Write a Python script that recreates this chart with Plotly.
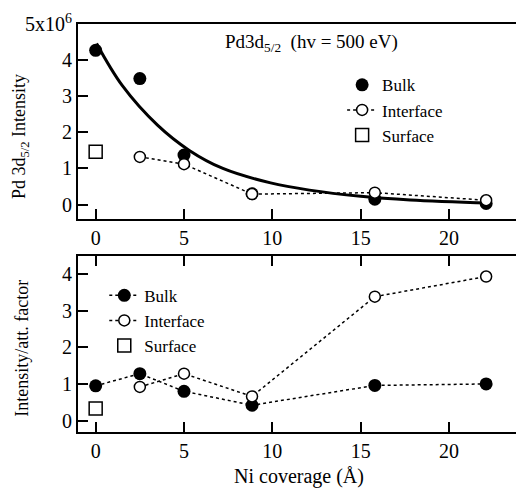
import plotly.graph_objects as go

# ---------------- data ----------------
coverage = [0, 2.5, 5.0, 8.85, 15.8, 22.1]
coverage_int = [2.5, 5.0, 8.85, 15.8, 22.1]
surf_x = [0]

top_bulk = [4.27, 3.49, 1.37, 0.30, 0.15, 0.03]
top_interface = [1.32, 1.12, 0.29, 0.33, 0.12]
top_surface = [1.46]

fit_x = [0.05, 1.5, 3.5, 5.3, 7.2, 9.9, 12.1, 15.0, 17.8, 22.3]
fit_y = [4.46, 3.30, 2.20, 1.50, 1.00, 0.60, 0.40, 0.23, 0.13, 0.045]

bot_bulk = [0.95, 1.28, 0.80, 0.42, 0.96, 1.00]
bot_interface = [0.92, 1.28, 0.66, 3.38, 3.93]
bot_surface = [0.33]

top_tickvals = [0, 1, 2, 3, 4, 5]
top_ticktext = ["0", "1", "2", "3", "4", "5x10<sup>6</sup>"]
bot_tickvals = [0, 1, 2, 3, 4]
x_tickvals = [0, 5, 10, 15, 20]

FONT = "Liberation Serif"

fig = go.Figure()

# top panel
fig.add_trace(go.Scatter(x=fit_x, y=fit_y, mode="lines", line=dict(color="black", width=3, shape="spline"),
                         showlegend=False, xaxis="x", yaxis="y"))
fig.add_trace(go.Scatter(x=coverage, y=top_bulk, mode="markers", name="Bulk",
                         marker=dict(symbol="circle", size=13, color="black"),
                         xaxis="x", yaxis="y", legend="legend"))
fig.add_trace(go.Scatter(x=coverage_int, y=top_interface, mode="lines+markers", name="Interface",
                         line=dict(color="black", width=1.5, dash="dot"),
                         marker=dict(symbol="circle", size=11, color="white", line=dict(color="black", width=1.5)),
                         xaxis="x", yaxis="y", legend="legend"))
fig.add_trace(go.Scatter(x=surf_x, y=top_surface, mode="markers", name="Surface",
                         marker=dict(symbol="square", size=13, color="white", line=dict(color="black", width=1.5)),
                         xaxis="x", yaxis="y", legend="legend"))

# bottom panel
fig.add_trace(go.Scatter(x=coverage, y=bot_bulk, mode="lines+markers", name="Bulk",
                         line=dict(color="black", width=1.5, dash="dot"),
                         marker=dict(symbol="circle", size=13, color="black"),
                         xaxis="x2", yaxis="y2", legend="legend2"))
fig.add_trace(go.Scatter(x=coverage_int, y=bot_interface, mode="lines+markers", name="Interface",
                         line=dict(color="black", width=1.5, dash="dot"),
                         marker=dict(symbol="circle", size=11, color="white", line=dict(color="black", width=1.5)),
                         xaxis="x2", yaxis="y2", legend="legend2"))
fig.add_trace(go.Scatter(x=surf_x, y=bot_surface, mode="markers", name="Surface",
                         marker=dict(symbol="square", size=13, color="white", line=dict(color="black", width=1.5)),
                         xaxis="x2", yaxis="y2", legend="legend2"))

xrange = [-1.0, 23.79]


def axis(**kw):
    d = dict(showgrid=False, zeroline=False, showline=True, linecolor="black", linewidth=2,
             ticks="inside", ticklen=10, tickwidth=1.5, tickcolor="black", automargin=False,
             tickfont=dict(family=FONT, size=20, color="black"))
    d.update(kw)
    return d


fig.update_layout(
    template="simple_white",
    width=516, height=492,
    margin=dict(l=78, r=0, t=24, b=60, autoexpand=False),
    plot_bgcolor="white", paper_bgcolor="white",
    font=dict(family=FONT, color="black"),
    xaxis=axis(range=xrange, domain=[0, 1], anchor="y", tickvals=x_tickvals, mirror=True),
    yaxis=axis(range=[-0.40, 5.0], domain=[0.522, 1], anchor="x", mirror=False,
               tickvals=top_tickvals, ticktext=top_ticktext),
    xaxis2=axis(range=xrange, domain=[0, 1], anchor="y2", tickvals=x_tickvals, mirror="ticks"),
    yaxis2=axis(range=[-0.31, 4.49], domain=[0, 0.4314], anchor="x2", mirror=False, tickvals=bot_tickvals),
    legend=dict(x=0.603, y=0.894, xanchor="left", yanchor="top", bgcolor="rgba(0,0,0,0)",
                font=dict(family=FONT, size=17, color="black")),
    legend2=dict(x=0.06, y=0.378, xanchor="left", yanchor="top", bgcolor="rgba(0,0,0,0)",
                 font=dict(family=FONT, size=17, color="black")),
    annotations=[
        dict(text="Pd3d<sub>5/2</sub>  (hv = 500 eV)", xref="paper", yref="paper", x=0.330, y=0.953,
             xanchor="left", yanchor="middle", showarrow=False, font=dict(family=FONT, size=19, color="black")),
        dict(text="Pd 3d<sub>5/2</sub> Intensity", xref="paper", yref="paper", x=-0.1324, y=0.723,
             xanchor="center", yanchor="middle", textangle=-90, showarrow=False,
             font=dict(family=FONT, size=18, color="black")),
        dict(text="Intensity/att. factor", xref="paper", yref="paper", x=-0.1285, y=0.206,
             xanchor="center", yanchor="middle", textangle=-90, showarrow=False,
             font=dict(family=FONT, size=18, color="black")),
        dict(text="Ni coverage (Å)", xref="paper", yref="paper", x=0.5046, y=-0.108,
             xanchor="center", yanchor="middle", showarrow=False,
             font=dict(family=FONT, size=20, color="black")),
    ],
)

fig.write_html("out.html", config={"displayModeBar": False},
               post_script="document.body.style.margin='0';document.body.style.padding='0';")
